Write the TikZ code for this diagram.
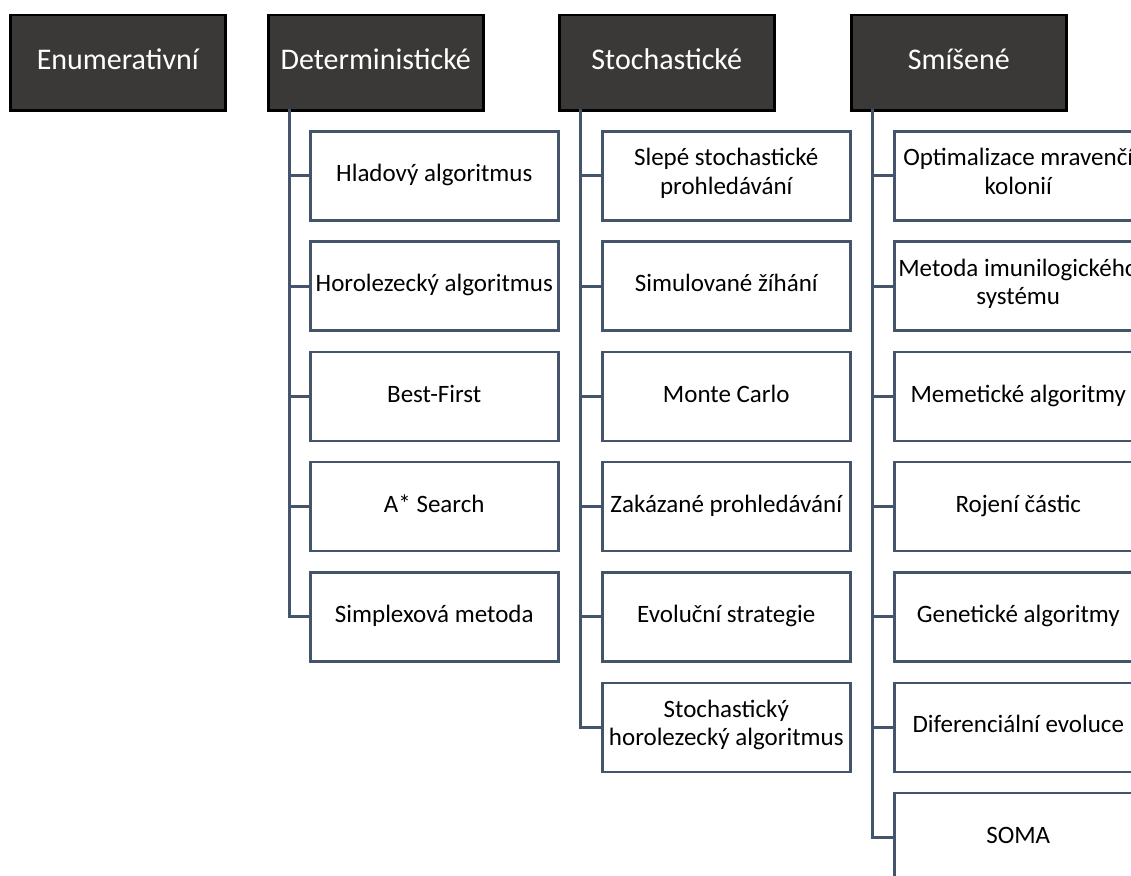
\documentclass[tikz,border=0pt]{standalone}
\usepackage{fontspec}
\setmainfont{Carlito}
\definecolor{headfill}{HTML}{3B3838}
\definecolor{slate}{HTML}{44546A}
\tikzset{head/.style={rectangle, draw=black, fill=headfill, line width=2.5pt,
      text=white, minimum width=215pt, minimum height=95pt, anchor=north west,
      font=\fontsize{30}{35}\selectfont, execute at begin node=\strut}}
\tikzset{item/.style={rectangle, draw=slate, line width=2.5pt, fill=white,
      minimum width=248pt, minimum height=89pt, anchor=north west, align=center,
      inner xsep=0pt, font=\fontsize{25}{28.5}\selectfont,
      execute at begin node=\strut, execute at end node=\strut}}
\tikzset{conn/.style={draw=slate, line width=3pt}}

\begin{document}
\begin{tikzpicture}[x=1pt,y=-1pt]
    \useasboundingbox (0,0) rectangle (1131,875);
    \clip (0,0) rectangle (1131,875);
    % headers
    \node[head] (enum) at (9,14) {Enumerativní};
    \node[head] (det) at (267,14) {Deterministické};
    \node[head] (sto) at (558,14) {Stochastické};
    \node[head] (mix) at (850,14) {Smíšené};
    \coordinate (tdet) at (289,109);
    \coordinate (tsto) at (580,109);
    \coordinate (tmix) at (872,109);
    % deterministic methods
    \foreach \i/\txt in {1/Hladový algoritmus, 2/Horolezecký algoritmus,
        3/Best-First, 4/A* Search, 5/Simplexová metoda}
      \node[item] (det\i) at (309,{130+110.3*(\i-1)}) {\txt};
    % stochastic methods
    \foreach \i/\txt in {1/{Slepé stochastické\\prohledávání}, 2/Simulované žíhání,
        3/Monte Carlo, 4/Zakázané prohledávání, 5/Evoluční strategie,
        6/{Stochastický\\horolezecký algoritmus}}
      \node[item] (sto\i) at (601,{130+110.3*(\i-1)}) {\txt};
    % mixed methods
    \foreach \i/\txt in {1/{Optimalizace mravenčí\\kolonií}, 2/{Metoda imunilogického\\systému},
        3/Memetické algoritmy, 4/Rojení částic, 5/Genetické algoritmy,
        6/Diferenciální evoluce, 7/SOMA}
      \node[item] (mix\i) at (893,{130+110.3*(\i-1)}) {\txt};
    % connectors
    \foreach \i in {1,...,5}
      \draw[conn] (tdet) |- (det\i.west);
    \foreach \i in {1,...,6}
      \draw[conn] (tsto) |- (sto\i.west);
    \foreach \i in {1,...,7}
      \draw[conn] (tmix) |- (mix\i.west);
\end{tikzpicture}
\end{document}
